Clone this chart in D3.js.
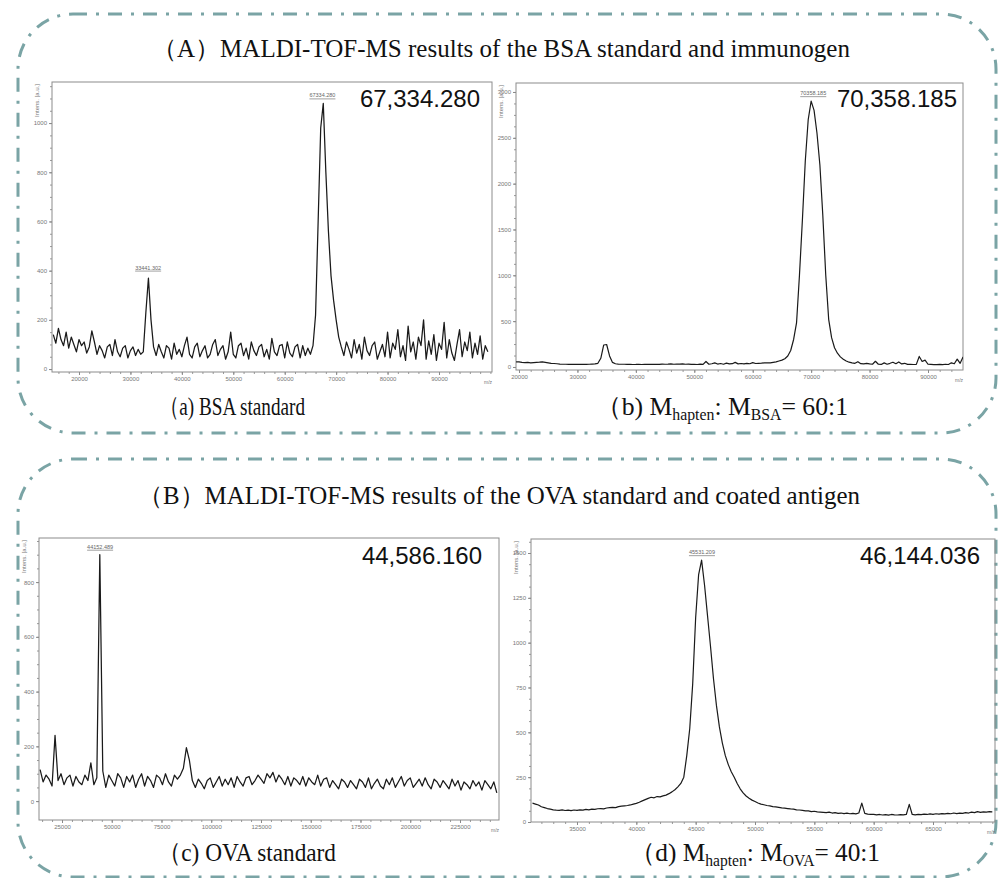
<!DOCTYPE html>
<html>
<head>
<meta charset="utf-8">
<script src="https://cdn.jsdelivr.net/npm/d3@7/dist/d3.min.js"></script>
<style>
  body { margin: 0; background: #fff; }
</style>
</head>
<body>
<div id="fig"></div>
<script>
// ---- data (m/z grid start + step, intensities in a.u.) ----

// (a) BSA standard
var aStart = 15000, aStep = 500;
var aIntensity = [
  140,105,165,120,95,150,85,130,100,70, 120,95,110,65,90,155,
  110,60,95,75,45,90,100,55,120,70, 50,85,95,45,75,90,55,80,60,70,
  230,370,200,90,
  55,100,70,45,95,85,40,105,60,80, 50,95,130,60,45,90,105,50,75,95,
  45,60,100,120,55,80,95,40,70,150, 60,45,95,105,55,85,40,110,75,55,
  90,100,50,80,40,125,70,55,95,100, 45,110,65,50,90,100,45,95,55,85,
  60,
  95,220,600,980,1080,800,560,380,280,200,130,90,
  55,110,80,45,120,65,100,40,130,75, 55,95,110,40,70,100,50,150,45,105,
  80,160,50,95,35,175,70,110,40,130, 95,200,40,115,60,140,35,105,80,190,
  45,120,65,35,100,160,50,110,75,150, 45,105,60,135,40,95,70
];
var aXTicks = [20000, 30000, 40000, 50000, 60000, 70000, 80000, 90000];
var aYTicks = [0, 200, 400, 600, 800, 1000];
var aPeaks = [
  {mz: 67334.280, top: 1080, text: "67334.280"},
  {mz: 33441.302, top: 380, text: "33441.302"}
];

// (b) hapten : BSA = 60:1
var bStart = 19500, bStep = 500;
var bIntensity = [
  55,55,50,48,50,45,48,50,52,55, 50,45,40,38,35,32,30,30,28,30,
  28,30,29,30,28,30,32,33,40,95, 240,245,120,50,35,32,30,30,28,30,
  27,28,30,27,29,28,30,28,30,29, 32,30,31,33,30,32,31,33,30,32,
  28,30,27,32,28,60,30,35,45,32, 38,30,42,33,36,50,34,38,33,40,
  35,48,38,40,42,45,44,45,50,55, 65,75,90,120,180,300,480,1000,1600,2250,
  2700,2900,2800,2550,2200,1650,1000,520,320,210, 150,110,85,65,52,45,40,58,36,34,
  40,33,30,62,30,28,45,30,40,52, 35,55,33,40,28,30,27,28,115,60,
  75,30,28,26,25,28,26,30,27,45, 35,85,40,110
];
var bXTicks = [20000, 30000, 40000, 50000, 60000, 70000, 80000, 90000];
var bYTicks = [0, 500, 1000, 1500, 2000, 2500, 3000];
var bPeaks = [{mz: 70358.185, top: 2900, text: "70358.185"}];

// (c) OVA standard
var cStart = 14000, cStep = 1500;
var cIntensity = [
  115,70,95,80,55,240,75,100,60,85, 95,55,90,70,60,95,75,140,60,85,
  900,110,50,
  95,75,55,100,85,50,90,70,95,50, 80,100,55,90,75,50,95,85,60,100, 70,55,95,80,
  95,120,195,150,75,
  50,80,65,45,75,85,50,70,90,55, 80,60,85,50,90,70,55,85,90,60, 75,95,80,65,100,85,
  105,70,95,80,60,90,55,85,75,60, 90,55,85,70,60,95,55,80,85,50,
  75,60,45,80,70,50,75,60,45,80, 70,50,85,45,65,80,55,45,80,60,
  85,50,70,90,55,75,85,50,65,80, 55,85,60,45,80,70,50,75,60,45,
  80,55,75,40,70,60,45,75,55,70, 40,75,60,45,70,30
];
var cXTicks = [25000, 50000, 75000, 100000, 125000, 150000, 175000, 200000, 225000];
var cYTicks = [0, 200, 400, 600, 800];
var cPeaks = [{mz: 44152.489, top: 900, text: "44152.489"}];

// (d) hapten : OVA = 40:1
var dStart = 31250, dStep = 250;
var dIntensity = [
  105,100,95,85,80,75,72,68,66,65, 68,64,66,63,67,65,68,66,70,68,
  72,70,74,75,73,78,80,82,80,86, 88,90,92,95,100,104,110,118,125,132,
  138,135,142,140,146,150,158,168,180,196, 215,250,370,520,770,1140,1380,1460,1320,1150,
  980,800,650,530,440,370,320,280,250,215, 185,162,145,132,122,114,106,100,96,92,
  90,86,84,82,79,77,75,73,72,68, 67,65,62,62,58,60,56,55,54,52,
  55,50,52,48,50,47,49,46,48,45, 50,105,48,44,42,43,40,42,39,41,
  38,42,40,39,41,40,42,98,42,40, 43,41,44,42,45,43,46,44,47,45,
  48,46,50,47,49,48,52,50,55,52, 58,54,56,55,58,57
];
var dXTicks = [35000, 40000, 45000, 50000, 55000, 60000, 65000];
var dYTicks = [0, 250, 500, 750, 1000, 1250, 1500];
var dPeaks = [{mz: 45531.209, top: 1460, text: "45531.209"}];

// highlighted average masses
var bigLabels = ["67,334.280", "70,358.185", "44,586.160", "46,144.036"];

// ---- layout ----
var W = 1001, H = 878;
var teal = "#7aa4a5";
var serif = "'Liberation Serif', 'Times New Roman', serif";
var sans = "'Liberation Sans', Arial, sans-serif";

var svg = d3.select("#fig").append("svg")
  .attr("width", W).attr("height", H)
  .style("display", "block");

// dash-dot rounded group boxes
[[18, 14, 978, 419], [18, 459, 978, 418]].forEach(function(b) {
  svg.append("rect")
    .attr("x", b[0]).attr("y", b[1]).attr("width", b[2]).attr("height", b[3])
    .attr("rx", 55).attr("ry", 55)
    .attr("fill", "none")
    .attr("stroke", teal)
    .attr("stroke-width", 3)
    .attr("stroke-dasharray", "14 9 3 9");
});

var panels = [
  {frame: [52, 82, 492, 372], xDom: [14750, 100306], yDom: [-12, 1167],
   start: aStart, step: aStep, values: aIntensity, xTicks: aXTicks, yTicks: aYTicks,
   xMinor: 2000, yMinor: 50, peaks: aPeaks, big: bigLabels[0], bigPos: [480, 107], lw: 1.25},
  {frame: [516, 83, 963, 370], xDom: [19487, 95990], yDom: [-33, 3098],
   start: bStart, step: bStep, values: bIntensity, xTicks: bXTicks, yTicks: bYTicks,
   xMinor: 2000, yMinor: 125, peaks: bPeaks, big: bigLabels[1], bigPos: [957, 107], lw: 1.2},
  {frame: [39, 538, 499, 820], xDom: [13442, 244600], yDom: [-69, 961],
   start: cStart, step: cStep, values: cIntensity, xTicks: cXTicks, yTicks: cYTicks,
   xMinor: 5000, yMinor: 50, peaks: cPeaks, big: bigLabels[2], bigPos: [482, 564], lw: 1.25},
  {frame: [531, 539, 995, 822], xDom: [31124, 70225], yDom: [0, 1578],
   start: dStart, step: dStep, values: dIntensity, xTicks: dXTicks, yTicks: dYTicks,
   xMinor: 1000, yMinor: 62.5, peaks: dPeaks, big: bigLabels[3], bigPos: [980, 564], lw: 1.2}
];

panels.forEach(function(p, i) {
  var f = p.frame;
  var x = d3.scaleLinear().domain(p.xDom).range([f[0], f[2]]);
  var y = d3.scaleLinear().domain(p.yDom).range([f[3], f[1]]);
  var g = svg.append("g");

  var clipId = "clip" + i;
  g.append("clipPath").attr("id", clipId)
    .append("rect").attr("x", f[0]).attr("y", f[1])
    .attr("width", f[2] - f[0]).attr("height", f[3] - f[1]);

  // minor ticks
  var xm = d3.range(Math.ceil(p.xDom[0] / p.xMinor) * p.xMinor, p.xDom[1], p.xMinor);
  g.append("g").attr("transform", "translate(0," + f[3] + ")")
    .call(d3.axisBottom(x).tickValues(xm).tickSize(2).tickFormat(""))
    .call(function(s) { s.select(".domain").remove(); s.selectAll("line").attr("stroke", "#999"); });
  var ym = d3.range(Math.max(0, Math.ceil(p.yDom[0] / p.yMinor) * p.yMinor), p.yDom[1], p.yMinor);
  g.append("g").attr("transform", "translate(" + f[0] + ",0)")
    .call(d3.axisLeft(y).tickValues(ym).tickSize(2).tickFormat(""))
    .call(function(s) { s.select(".domain").remove(); s.selectAll("line").attr("stroke", "#999"); });

  // major ticks with labels
  g.append("g").attr("transform", "translate(0," + f[3] + ")")
    .call(d3.axisBottom(x).tickValues(p.xTicks).tickSize(3).tickPadding(2).tickFormat(d3.format("d")))
    .call(function(s) {
      s.select(".domain").remove();
      s.selectAll("line").attr("stroke", "#888");
      s.selectAll("text").attr("fill", "#777").style("font", "6px " + sans);
    });
  g.append("g").attr("transform", "translate(" + f[0] + ",0)")
    .call(d3.axisLeft(y).tickValues(p.yTicks).tickSize(3).tickPadding(2).tickFormat(d3.format("d")))
    .call(function(s) {
      s.select(".domain").remove();
      s.selectAll("line").attr("stroke", "#888");
      s.selectAll("text").attr("fill", "#777").style("font", "6px " + sans);
    });

  // frame
  g.append("rect").attr("x", f[0]).attr("y", f[1])
    .attr("width", f[2] - f[0]).attr("height", f[3] - f[1])
    .attr("fill", "none").attr("stroke", "#8c8c8c").attr("stroke-width", 1);

  // axis names
  g.append("text")
    .attr("transform", "translate(" + (f[0] - 13) + "," + (f[1] + 2) + ") rotate(-90)")
    .attr("text-anchor", "end")
    .attr("fill", "#777").style("font", "6px " + sans)
    .text("Intens. [a.u.]");
  g.append("text")
    .attr("x", f[2] - 4).attr("y", f[3] + 12)
    .attr("text-anchor", "middle")
    .attr("fill", "#777").style("font", "5px " + sans)
    .text("m/z");

  // spectrum trace
  var line = d3.line()
    .x(function(d, k) { return x(p.start + k * p.step); })
    .y(function(d) { return y(d); });
  g.append("path")
    .datum(p.values)
    .attr("clip-path", "url(#" + clipId + ")")
    .attr("d", line)
    .attr("fill", "none")
    .attr("stroke", "#1a1a1a")
    .attr("stroke-width", p.lw)
    .attr("stroke-linejoin", "round");

  // peak annotations
  p.peaks.forEach(function(pk) {
    var px = x(pk.mz), py = y(pk.top) - 6;
    g.append("text").attr("x", px).attr("y", py)
      .attr("text-anchor", "middle")
      .attr("fill", "#666").style("font", "5.5px " + sans)
      .text(pk.text);
    g.append("line")
      .attr("x1", px - 13).attr("x2", px + 13)
      .attr("y1", py + 1.5).attr("y2", py + 1.5)
      .attr("stroke", "#777").attr("stroke-width", 0.7);
  });

  // average mass
  g.append("text")
    .attr("x", p.bigPos[0]).attr("y", p.bigPos[1])
    .attr("text-anchor", "end")
    .attr("fill", "#111")
    .style("font", "24px " + sans)
    .text(p.big);
});

// ---- titles and captions ----
function title(txt, x0, x1, yb) {
  svg.append("text")
    .attr("x", x0).attr("y", yb)
    .attr("textLength", x1 - x0).attr("lengthAdjust", "spacingAndGlyphs")
    .attr("fill", "#111")
    .style("font", "25px " + serif)
    .text(txt);
}
title("（A）MALDI-TOF-MS results of the BSA standard and immunogen", 152, 850, 57);
title("（B）MALDI-TOF-MS results of the OVA standard and coated antigen", 138, 860, 504);

function caption(parts, x0, x1, yb) {
  var t = svg.append("text")
    .attr("x", x0).attr("y", yb)
    .attr("textLength", x1 - x0).attr("lengthAdjust", "spacingAndGlyphs")
    .attr("fill", "#111")
    .style("font", "26px " + serif);
  parts.forEach(function(pt) {
    var s = t.append("tspan").text(pt[0]);
    if (pt[1] === "sub") s.attr("dy", 5).style("font-size", "16px");
    if (pt[1] === "up") s.attr("dy", -5);
  });
}
caption([["（a) BSA standard"]], 160, 305, 415);
caption([["（b) M"], ["hapten", "sub"], [": M", "up"], ["BSA", "sub"], ["= 60:1", "up"]], 596, 848, 415);
caption([["（c) OVA standard"]], 158, 336, 861);
caption([["（d) M"], ["hapten", "sub"], [": M", "up"], ["OVA", "sub"], ["= 40:1", "up"]], 630, 880, 861);
</script>
</body>
</html>
